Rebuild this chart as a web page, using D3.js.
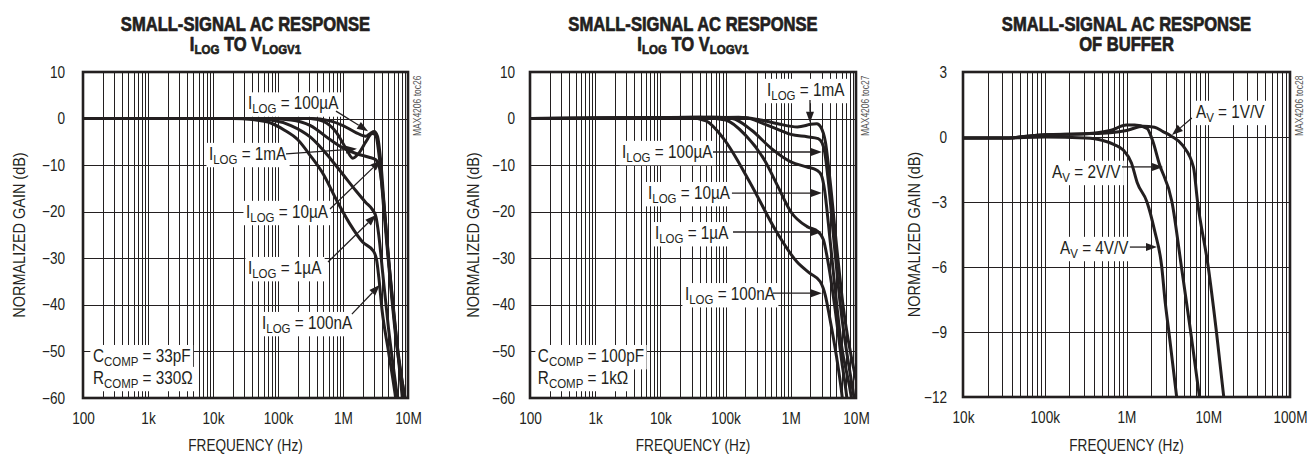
<!DOCTYPE html>
<html><head><meta charset="utf-8">
<script src="https://cdn.jsdelivr.net/npm/d3@7"></script>
<style>
html,body{margin:0;padding:0;background:#fff;}
svg{display:block;background:#fff;}
</style></head><body>
<svg id="chart" width="1309" height="454"></svg>
<script>
// ---------------- DATA ----------------
const freqTicksA = [1e2, 1e3, 1e4, 1e5, 1e6, 1e7];
const freqTickLabelsA = ["100", "1k", "10k", "100k", "1M", "10M"];
const gainTicksA = [10, 0, -10, -20, -30, -40, -50, -60];
const freqTicksB = [1e4, 1e5, 1e6, 1e7, 1e8];
const freqTickLabelsB = ["10k", "100k", "1M", "10M", "100M"];
const gainTicksB = [3, 0, -3, -6, -9, -12];

const ilogNames = ["100nA", "1µA", "10µA", "100µA", "1mA"];
const gainNames = ["4V/V", "2V/V", "1V/V"];

// Panel 1 (CCOMP = 33pF), [frequency Hz, normalized gain dB]
const p1_100nA = [[100,0],[2e4,0],[4e4,-0.2],[7.9e4,-1],[1.26e5,-2.5],[2e5,-4.5],[3.16e5,-8],[5.01e5,-12],[7.94e5,-17.5],[1.26e6,-22.5],[2e6,-26.5],[2.95e6,-28.5],[3.3e6,-30.5],[3.55e6,-34],[3.98e6,-41],[5.01e6,-50],[6.31e6,-59],[6.6e6,-61]];
const p1_1uA = [[100,0],[4e4,0],[7.9e4,-0.3],[1.58e5,-1.5],[3.16e5,-4],[6.31e5,-8.5],[1e6,-12],[1.58e6,-15.5],[2.24e6,-18],[2.82e6,-19.5],[3.2e6,-21],[3.55e6,-25],[4.07e6,-33],[5.01e6,-45],[6.31e6,-56],[7.08e6,-61]];
const p1_10uA = [[100,0],[6.3e4,0],[1.58e5,-0.3],[3.16e5,-1.5],[6.31e5,-4.5],[1e6,-6.3],[1.58e6,-7.5],[2.51e6,-8.3],[3.16e6,-8.8],[3.63e6,-10.5],[4.17e6,-17],[5.01e6,-30],[6.31e6,-44],[8.32e6,-61]];
const p1_100uA = [[100,0],[3.16e5,0],[6.31e5,-0.5],[1e6,-1.5],[1.58e6,-3],[2.24e6,-3.8],[2.63e6,-3.2],[3.02e6,-2.8],[3.39e6,-3.8],[3.8e6,-9],[4.37e6,-20],[5.25e6,-33],[6.61e6,-47],[9.12e6,-61]];
const p1_1mA = [[100,0],[3.16e5,0],[5.01e5,-0.6],[7.94e5,-3],[1.12e6,-6.5],[1.41e6,-8.5],[1.78e6,-7.3],[2.24e6,-5],[2.82e6,-3.2],[3.16e6,-3.5],[3.63e6,-8.5],[4.27e6,-20],[5.25e6,-34],[6.61e6,-48],[9.33e6,-61]];

// Panel 2 (CCOMP = 100pF)
const p2_100nA = [[100,0],[2.8e4,0.2],[5e4,-0.5],[9.3e4,-4.3],[2.34e5,-13.6],[6.03e5,-24.3],[1.23e6,-30.7],[1.95e6,-33.2],[2.82e6,-35],[3.39e6,-38],[3.98e6,-43],[5.01e6,-51],[6.17e6,-60],[6.4e6,-62]];
const p2_1uA = [[100,0],[4e4,0.3],[1e5,-0.3],[2e5,-3.5],[3.98e5,-9],[6.31e5,-14.5],[1e6,-20],[1.78e6,-23.2],[2.63e6,-24.3],[3.16e6,-26],[3.8e6,-31.5],[4.79e6,-41],[6.03e6,-52],[7.24e6,-60],[7.5e6,-62]];
const p2_10uA = [[100,0],[6.3e4,0.3],[1.26e5,0],[2.51e5,-2.5],[5.01e5,-6.4],[1e6,-9.3],[1.78e6,-10.4],[2.51e6,-11.1],[2.95e6,-12.2],[3.31e6,-15.5],[3.8e6,-23],[4.57e6,-34],[5.89e6,-48],[8.51e6,-60],[8.9e6,-62]];
const p2_100uA = [[100,0],[6.3e4,0.3],[2e5,0.2],[3.98e5,-1.2],[6.31e5,-2.3],[1e6,-3.4],[1.78e6,-3.9],[2.63e6,-4.3],[3.02e6,-5.2],[3.31e6,-7.2],[3.8e6,-14],[4.57e6,-26],[5.75e6,-40],[9.33e6,-60],[9.8e6,-62]];
const p2_1mA = [[100,0],[5e4,0.2],[1.58e5,0.3],[3.16e5,-0.2],[6.31e5,-1.1],[1.26e6,-1.8],[1.7e6,-1.5],[2e6,-1.2],[2.51e6,-1.1],[2.88e6,-1.8],[3.39e6,-5],[3.98e6,-13],[5.01e6,-27],[6.31e6,-40],[1e7,-56]];

// Panel 3 (buffer)
const p3_4VV = [[1e4,-0.05],[3e4,-0.05],[1e5,0],[3.16e5,-0.05],[5.01e5,-0.15],[7.08e5,-0.35],[9.12e5,-0.6],[1.15e6,-1.2],[1.35e6,-2.1],[1.78e6,-3],[2.2e6,-4.3],[2.7e6,-6],[2.95e6,-7.5],[3.3e6,-9],[4.2e6,-12.3]];
const p3_2VV = [[1e4,-0.05],[3e4,-0.05],[1e5,0.1],[3.16e5,0.15],[6.31e5,0.3],[1e6,0.55],[1.26e6,0.55],[1.78e6,0.4],[2.1e6,-0.2],[2.5e6,-1.2],[3.6e6,-3],[4.7e6,-6],[6.1e6,-9],[8e6,-12.3]];
const p3_1VV = [[1e4,-0.05],[3e4,-0.05],[1e5,0.1],[3.16e5,0.15],[6.31e5,0.2],[1e6,0.3],[1.6e6,0.5],[2.2e6,0.45],[2.8e6,0.25],[3.5e6,0.05],[4.9e6,-0.4],[6.6e6,-1.4],[7.4e6,-3],[1e7,-6],[1.26e7,-9],[1.58e7,-12.3]];

// ---------------- RENDER ----------------
const INK = "#231f20";
const FONT = "'Liberation Sans','Arimo',Arial,sans-serif";
const SX = 0.85;   // horizontal condensing of the text
const svg = d3.select("#chart");
const defs = svg.append("defs");

function tgroup(g, x, y) {
  return g.append("g").attr("transform", `translate(${x},${y}) scale(${SX},1)`);
}
function rich(g, parts, size, subSize, subDy, bold) {
  const t = g.append("text").attr("x", 0).attr("y", 0)
    .style("font-family", FONT).style("font-size", size + "px")
    .style("font-weight", bold ? "bold" : "normal").attr("fill", INK);
  if (bold) t.attr("stroke", INK).attr("stroke-width", 0.7).attr("stroke-linejoin", "round");
  let shift = 0;
  parts.forEach(p => {
    const target = p.sub ? subDy : 0;
    const s = t.append("tspan").text(p.t).attr("dy", target - shift);
    shift = target;
    if (p.sub) s.style("font-size", subSize + "px");
  });
  return t;
}

function arrow(g, x1, y1, x2, y2) {
  const a = Math.atan2(y2 - y1, x2 - x1), L = 11, w = 4;
  const bx = x2 - L * Math.cos(a), by = y2 - L * Math.sin(a);
  g.append("line").attr("x1", x1).attr("y1", y1).attr("x2", bx).attr("y2", by)
    .attr("stroke", INK).attr("stroke-width", 1.3);
  g.append("path").attr("d",
    `M${x2},${y2}L${bx + w * Math.sin(a)},${by - w * Math.cos(a)}L${bx - w * Math.sin(a)},${by + w * Math.cos(a)}Z`)
    .attr("fill", INK);
}

function drawPanel(cfg) {
  const x = d3.scaleLog().domain(cfg.xDomain).range([cfg.left, cfg.right]);
  const y = d3.scaleLinear().domain(cfg.yDomain).range([cfg.top, cfg.bottom]);
  const g = svg.append("g");
  const cid = "clip" + cfg.id;
  defs.append("clipPath").attr("id", cid).append("rect")
    .attr("x", cfg.left).attr("y", cfg.top)
    .attr("width", cfg.right - cfg.left).attr("height", cfg.bottom - cfg.top);
  const snap = v => Math.round(v) + 0.5;

  const vgrid = [];
  const d0 = Math.round(Math.log10(cfg.xDomain[0])), d1 = Math.round(Math.log10(cfg.xDomain[1]));
  for (let d = d0; d < d1; d++) for (let k = 1; k < 10; k++) {
    if (k > 1 || d > d0) vgrid.push(k * Math.pow(10, d));
  }
  g.append("g").selectAll("line").data(vgrid).join("line")
    .attr("x1", d => snap(x(d))).attr("x2", d => snap(x(d)))
    .attr("y1", cfg.top).attr("y2", cfg.bottom)
    .attr("stroke", INK).attr("stroke-width", 1);
  g.append("g").selectAll("line").data(cfg.yTicks.slice(1, -1)).join("line")
    .attr("x1", cfg.left).attr("x2", cfg.right)
    .attr("y1", d => snap(y(d))).attr("y2", d => snap(y(d)))
    .attr("stroke", INK).attr("stroke-width", 1);

  const line = d3.line().x(d => x(d[0])).y(d => y(d[1])).curve(d3.curveMonotoneX);
  g.append("g").attr("clip-path", `url(#${cid})`)
    .selectAll("path").data(cfg.series).join("path")
    .attr("d", line).attr("fill", "none").attr("stroke", INK)
    .attr("stroke-width", 3).attr("stroke-linejoin", "round").attr("stroke-linecap", "round");

  const ng = g.append("g");
  cfg.notes.forEach(n => {
    const gg = tgroup(ng, x(n.at[0]), y(n.at[1]));
    const r = gg.append("rect").attr("fill", "#fff");
    const t = rich(gg, n.parts, 18, 13.5, 4, false);
    const b = t.node().getBBox();
    r.attr("x", b.x - 3).attr("y", b.y - 1).attr("width", b.width + 6).attr("height", b.height + 1);
    if (n.from) arrow(ng, x(n.from[0]), y(n.from[1]), x(n.to[0]), y(n.to[1]));
  });

  g.append("rect").attr("x", cfg.left).attr("y", cfg.top)
    .attr("width", cfg.right - cfg.left).attr("height", cfg.bottom - cfg.top)
    .attr("fill", "none").attr("stroke", INK).attr("stroke-width", 2.6);

  const gx = g.append("g").attr("transform", `translate(0,${cfg.bottom})`)
    .call(d3.axisBottom(x).tickValues(cfg.xTicks).tickFormat((d, i) => cfg.xTickLabels[i]).tickSize(0).tickPadding(15));
  gx.select(".domain").remove();
  gx.selectAll("text").style("font-family", FONT).style("font-size", "16px").attr("fill", INK)
    .attr("transform", `scale(${SX},1)`);
  const gy = g.append("g").attr("transform", `translate(${cfg.left},0)`)
    .call(d3.axisLeft(y).tickValues(cfg.yTicks).tickSize(0).tickPadding(cfg.tickPad));
  gy.select(".domain").remove();
  gy.selectAll("text").style("font-family", FONT).style("font-size", "16px").attr("fill", INK)
    .attr("x", -cfg.tickPad / SX).attr("transform", `scale(${SX},1)`);

  tgroup(g, (cfg.left + cfg.right) / 2, 451).append("text").attr("text-anchor", "middle")
    .style("font-family", FONT).style("font-size", "16px").attr("fill", INK).text("FREQUENCY (Hz)");
  g.append("g").attr("transform", `translate(${cfg.yTitleX + 6},${(cfg.top + cfg.bottom) / 2}) rotate(-90) scale(${SX},1)`)
    .append("text").attr("text-anchor", "middle")
    .style("font-family", FONT).style("font-size", "17px").attr("fill", INK).text("NORMALIZED GAIN (dB)");

  cfg.title.forEach((parts, i) => {
    const t = rich(tgroup(g, (cfg.left + cfg.right) / 2, 31 + i * 19.5), parts, 19.5, 13.5, 3, true);
    t.attr("text-anchor", "middle");
  });

  g.append("g").attr("transform", `translate(${cfg.right + 13},${cfg.top + 64}) rotate(-90) scale(${SX},1)`)
    .append("text").style("font-family", FONT).style("font-size", "10px").attr("fill", "#555").text(cfg.code);
}

const I = s => [{t: "I"}, {t: "LOG", sub: true}, {t: " = " + s}];
const AV = s => [{t: "A"}, {t: "V", sub: true}, {t: " = " + s}];
const titleLog = [[{t: "SMALL-SIGNAL AC RESPONSE"}], [{t: "I"}, {t: "LOG", sub: true}, {t: " TO V"}, {t: "LOGV1", sub: true}]];

drawPanel({
  id: 1, left: 83, right: 408, top: 72, bottom: 398,
  xDomain: [1e2, 1e7], yDomain: [10, -60],
  xTicks: freqTicksA, xTickLabels: freqTickLabelsA, yTicks: gainTicksA,
  tickPad: 18, yTitleX: 19, code: "MAX4206 toc26",
  series: [p1_100nA, p1_1uA, p1_10uA, p1_100uA, p1_1mA],
  title: titleLog,
  notes: [
    {parts: I(ilogNames[3]), at: [3.45e4, 1.95], from: [7.8e5, 1.6], to: [2.43e6, -2.7]},
    {parts: I(ilogNames[4]), at: [8.67e3, -8.9], from: [1.33e5, -7.6], to: [1.64e6, -6.5]},
    {parts: I(ilogNames[2]), at: [3.22e4, -21.35], from: [6.31e5, -19.4], to: [3.85e6, -8.9]},
    {parts: I(ilogNames[1]), at: [3.45e4, -33.4], from: [5.88e5, -30.8], to: [3.22e6, -20.7]},
    {parts: I(ilogNames[0]), at: [5.68e4, -45.2], from: [1.37e6, -42], to: [3.7e6, -35.7]},
    {parts: [{t: "C"}, {t: "COMP", sub: true}, {t: " = 33pF"}], at: [142, -52.3]},
    {parts: [{t: "R"}, {t: "COMP", sub: true}, {t: " = 330Ω"}], at: [142, -57]}
  ]
});

drawPanel({
  id: 2, left: 530, right: 856, top: 72, bottom: 398,
  xDomain: [1e2, 1e7], yDomain: [10, -60],
  xTicks: freqTicksA, xTickLabels: freqTickLabelsA, yTicks: gainTicksA,
  tickPad: 15, yTitleX: 473, code: "MAX4206 toc27",
  series: [p2_100nA, p2_1uA, p2_10uA, p2_100uA, p2_1mA],
  title: titleLog,
  notes: [
    {parts: I(ilogNames[4]), at: [4.32e5, 4.85], from: [1.97e6, 4.0], to: [1.97e6, -0.9]},
    {parts: I(ilogNames[3]), at: [2.58e3, -8.47], from: [6.4e4, -7.18], to: [3.0e6, -7.18]},
    {parts: I(ilogNames[2]), at: [6.46e3, -17.3], from: [1.25e5, -16], to: [3.0e6, -16]},
    {parts: I(ilogNames[1]), at: [8.26e3, -25.9], from: [1.3e5, -24.36], to: [3.0e6, -24.36]},
    {parts: I(ilogNames[0]), at: [2.38e4, -39], from: [5.33e5, -37.5], to: [3.0e6, -37.5]},
    {parts: [{t: "C"}, {t: "COMP", sub: true}, {t: " = 100pF"}], at: [132, -52.3]},
    {parts: [{t: "R"}, {t: "COMP", sub: true}, {t: " = 1kΩ"}], at: [132, -57]}
  ]
});

drawPanel({
  id: 3, left: 963, right: 1290, top: 72, bottom: 397,
  xDomain: [1e4, 1e8], yDomain: [3, -12],
  xTicks: freqTicksB, xTickLabels: freqTickLabelsB, yTicks: gainTicksB,
  tickPad: 16, yTitleX: 914, code: "MAX4206 toc28",
  series: [p3_4VV, p3_2VV, p3_1VV],
  title: [[{t: "SMALL-SIGNAL AC RESPONSE"}], [{t: "OF BUFFER"}]],
  notes: [
    {parts: AV(gainNames[2]), at: [7.08e6, 0.88], from: [6.3e6, 0.88], to: [3.6e6, 0.09]},
    {parts: AV(gainNames[1]), at: [1.23e5, -1.89], from: [8.8e5, -1.38], to: [2.8e6, -1.38]},
    {parts: AV(gainNames[0]), at: [1.54e5, -5.4], from: [1.1e6, -5.08], to: [2.36e6, -5.08]}
  ]
});
</script>
</body></html>
